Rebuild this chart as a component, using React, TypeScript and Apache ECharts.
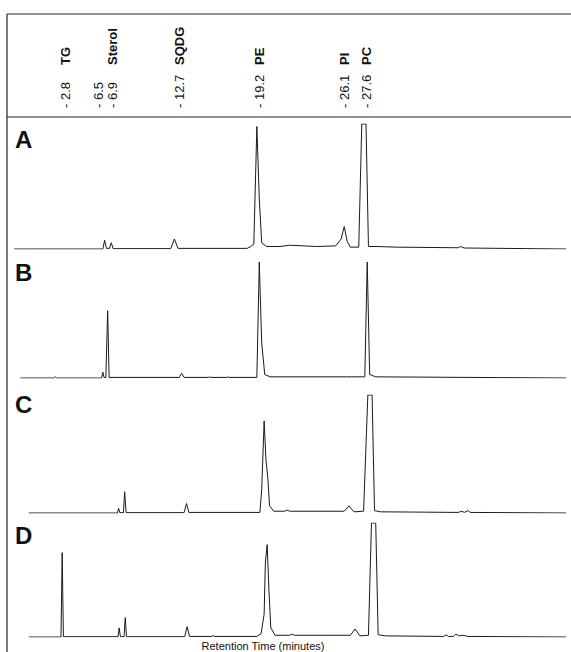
import { useEffect, useRef } from 'react';
import * as echarts from 'echarts';

// retention time (min), relative signal (% of panel height)
const traceA: [number, number][] = [
  [-1.4, 0], [5.9, 0], [6.05, 7], [6.2, 0.5], [6.45, 0.5], [6.6, 5], [6.75, 0.3],
  [11.5, 0.3], [11.8, 8], [12.1, 0.5], [17.8, 0.5], [18.1, 2], [18.35, 4], [18.6, 98],
  [18.8, 40], [19.0, 5], [19.4, 2], [20.5, 2], [21.3, 3], [22.5, 2.5], [23.5, 2],
  [25.1, 2.5], [25.55, 8], [25.8, 18], [26.05, 6], [26.3, 1.5], [27.0, 1.5],
  [27.25, 100], [27.6, 100], [27.8, 2], [28.5, 2], [30, 1.5], [35.2, 1], [35.4, 2], [35.7, 0.8], [44.1, 0]
];
const traceB: [number, number][] = [
  [-0.9, 0], [1.9, 0], [2.0, 1], [2.1, 0], [5.8, 0], [5.9, 5], [6.0, 0.5], [6.15, 0.5],
  [6.3, 58], [6.42, 0.5], [12.2, 0.5], [12.4, 4], [12.6, 0.5], [14.6, 0.5], [14.7, 1],
  [14.8, 0.5], [16.1, 0.5], [16.2, 1], [16.3, 0.5], [18.6, 0.5], [18.8, 100], [19.0, 30],
  [19.25, 3], [19.7, 1], [26.0, 1], [27.5, 1], [27.7, 100], [27.9, 3], [28.4, 1], [44.1, 0]
];
const traceC: [number, number][] = [
  [-0.2, 0], [7.1, 0], [7.2, 4], [7.3, 0.3], [7.6, 0.3], [7.7, 18], [7.82, 0.3],
  [12.6, 0.3], [12.8, 8], [13.0, 0.5], [18.85, 0.5], [19.0, 20], [19.2, 78], [19.35, 45],
  [19.5, 30], [19.65, 6], [20.0, 1.5], [20.9, 1.5], [21.1, 2.5], [21.3, 1.5], [25.8, 1.5],
  [26.2, 6], [26.6, 1], [27.4, 1.5], [27.75, 100], [28.1, 100], [28.3, 2], [28.8, 1],
  [35.2, 0.5], [35.5, 1.5], [35.7, 0.5], [36.0, 2], [36.2, 0.5], [44.1, 0]
];
const traceD: [number, number][] = [
  [-0.2, 0], [2.45, 0], [2.55, 74], [2.65, 0.3], [7.15, 0.3], [7.25, 8], [7.35, 0.3],
  [7.65, 0.3], [7.75, 17], [7.85, 0.3], [12.65, 0.3], [12.85, 9], [13.05, 0.5],
  [14.9, 0.5], [15.0, 1.5], [15.1, 0.5], [18.6, 0.5], [18.95, 3], [19.2, 20], [19.3, 65],
  [19.45, 81], [19.6, 40], [19.75, 8], [20.1, 1.5], [21.3, 1.5], [21.5, 2.5], [21.7, 1.5],
  [26.3, 1.5], [26.7, 7], [27.1, 1], [27.8, 1.5], [28.05, 100], [28.4, 100], [28.6, 2],
  [29.2, 1], [34.0, 0.5], [34.2, 2], [34.4, 0.5], [34.8, 0.5], [35.0, 2.5], [35.3, 1],
  [35.6, 1.5], [36.0, 0.5], [44.1, 0]
];

const panelLetters = ['A', 'B', 'C', 'D'];
const peakTimes = ['- 2.8', '- 6.5', '- 6.9', '- 12.7', '- 19.2', '- 26.1', '- 27.6'];
const peakX = [65, 98, 112, 179, 259, 344, 366];
const peakNames = ['TG', '', 'Sterol', 'SQDG', 'PE', 'PI', 'PC'];

const traces = [traceA, traceB, traceC, traceD];
const grids = [
  { top: 124, bottom: 249 },
  { top: 262, bottom: 378 },
  { top: 395, bottom: 513 },
  { top: 523, bottom: 637 },
];
const letterY = [139, 272, 404, 535];

const App = () => {
  const chartRef = useRef<HTMLDivElement>(null);

  useEffect(() => {
    document.body.style.margin = '0';
    if (!chartRef.current) return;
    const chart = echarts.init(chartRef.current, null, { renderer: 'svg' });
    const font = 'Liberation Sans, Arial, sans-serif';

    const graphic: any[] = [
      { type: 'line', shape: { x1: 7, y1: 14, x2: 571, y2: 14 }, style: { stroke: '#222', lineWidth: 1.2 } },
      { type: 'line', shape: { x1: 7, y1: 14, x2: 7, y2: 652 }, style: { stroke: '#222', lineWidth: 1.2 } },
      { type: 'line', shape: { x1: 7, y1: 117, x2: 571, y2: 117 }, style: { stroke: '#222', lineWidth: 1.2 } },
    ];
    peakTimes.forEach((t, i) => {
      graphic.push({
        type: 'text', x: peakX[i], y: 108, rotation: Math.PI / 2,
        style: { text: t, font: `13px ${font}`, fill: '#111', align: 'left', verticalAlign: 'middle' },
      });
      if (peakNames[i]) {
        graphic.push({
          type: 'text', x: peakX[i], y: 65, rotation: Math.PI / 2,
          style: { text: peakNames[i], font: `bold 13px ${font}`, fill: '#111', align: 'left', verticalAlign: 'middle' },
        });
      }
    });
    panelLetters.forEach((l, i) => {
      graphic.push({
        type: 'text', x: 15, y: letterY[i],
        style: { text: l, font: `bold 24px ${font}`, fill: '#111', align: 'left', verticalAlign: 'middle' },
      });
    });
    graphic.push({
      type: 'text', x: 263, y: 646,
      style: { text: 'Retention Time (minutes)', font: `11px ${font}`, fill: '#111', align: 'center', verticalAlign: 'middle' },
    });

    chart.setOption({
      animation: false,
      grid: grids.map(g => ({ left: 7, width: 564, top: g.top, height: g.bottom - g.top })),
      xAxis: grids.map((_, i) => ({ type: 'value', gridIndex: i, min: -2, max: 44.5, show: false })),
      yAxis: grids.map((_, i) => ({ type: 'value', gridIndex: i, min: 0, max: 100, show: false })),
      series: traces.map((d, i) => ({
        type: 'line', xAxisIndex: i, yAxisIndex: i, data: d, showSymbol: false,
        lineStyle: { color: '#1a1a1a', width: 1 },
      })),
      graphic,
    });
    return () => chart.dispose();
  }, []);

  return <div ref={chartRef} style={{ width: 571, height: 652 }} />;
};

export default App;
